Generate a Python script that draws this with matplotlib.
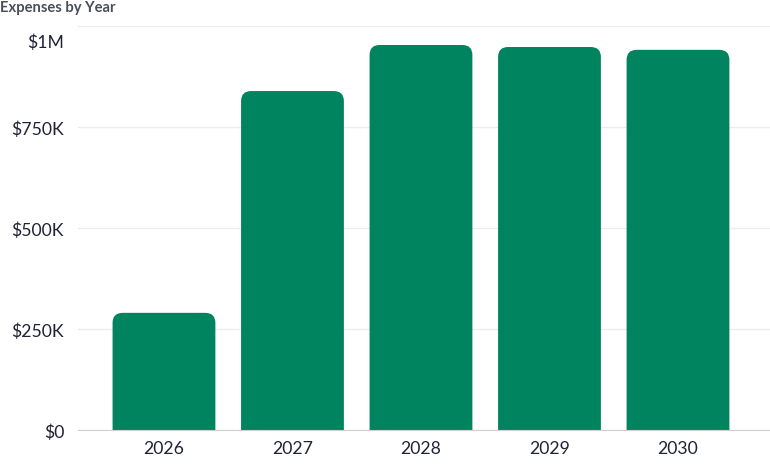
import matplotlib
matplotlib.use("Agg")
import matplotlib.pyplot as plt
from matplotlib.patches import FancyBboxPatch
from matplotlib.transforms import ScaledTranslation

plt.rcParams['font.family'] = ['Lato', 'DejaVu Sans']

# Values
years = ["2026", "2027", "2028", "2029", "2030"]
expenses = [290000, 839000, 953000, 948000, 941000]
tick_values = [0, 250000, 500000, 750000, 1000000]
tick_labels = ["$0", "$250K", "$500K", "$750K", "$1M"]

BAR_COLOR = "#00845f"
TEXT_COLOR = "#1f2335"
GRID_COLOR = "#ececec"
BASE_COLOR = "#cfcfcf"
CORNER_PX = 10

fig = plt.figure(figsize=(7.7, 4.77), dpi=100)
W, H = 770, 477
ax = fig.add_axes([78 / W, 46 / H, (770 - 78) / W, (431 - 27) / H])

x = list(range(len(years)))
bars = ax.bar(x, expenses, width=0.8, color=BAR_COLOR)
ax.set_xlim(-0.669, 4.716)
ax.set_ylim(0, 1000000)

# round the top corners: redraw each bar as a rounded box that dips below 0
x_per_px = 1 / 128.5
y_per_px = 1000000 / 404
rx = CORNER_PX * x_per_px
ry = CORNER_PX * y_per_px
for rect in bars:
    rect.set_visible(False)
    bx, bw, bh = rect.get_x(), rect.get_width(), rect.get_height()
    patch = FancyBboxPatch((bx, -ry * 2), bw, bh + ry * 2,
                           boxstyle=f"round,pad=0,rounding_size={rx}",
                           mutation_aspect=ry / rx,
                           facecolor=BAR_COLOR, edgecolor="none", zorder=3)
    ax.add_patch(patch)

ax.set_xticks(x)
ax.set_xticklabels(years)
ax.set_yticks(tick_values)
ax.set_yticklabels(tick_labels)
ax.tick_params(axis="both", length=0, labelsize=12.7, colors=TEXT_COLOR)
ax.tick_params(axis="y", pad=10)
ax.tick_params(axis="x", pad=7)

# top label sits lower than its gridline in the reference
top_label = ax.get_yticklabels()[-1]
top_label.set_transform(top_label.get_transform()
                        + ScaledTranslation(0, -14 / 100, fig.dpi_scale_trans))

ax.grid(axis="y", color=GRID_COLOR, linewidth=1)
ax.set_axisbelow(True)
for side in ["top", "right", "left"]:
    ax.spines[side].set_visible(False)
ax.spines["bottom"].set_color(BASE_COLOR)
ax.spines["bottom"].set_zorder(4)

fig.text(0 / W, 1 - 8 / H, "Expenses by Year", ha="left", va="center",
         fontsize=10.6, fontweight="bold", color="#4a4e5c")

fig.savefig("out.png", dpi=100)
